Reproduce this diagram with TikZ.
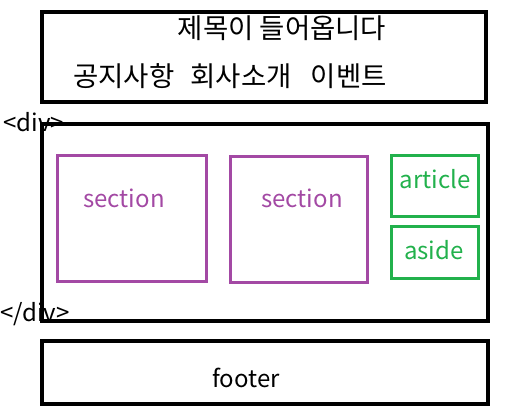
\documentclass[tikz,border=0pt]{standalone}
\usepackage{fontspec}
\setmainfont{Noto Sans CJK KR}
\usepackage{tikz}
\usetikzlibrary{positioning}
\definecolor{secpurple}{HTML}{A349A4}
\definecolor{artgreen}{HTML}{22B14C}
\tikzset{every picture/.style={line width=0.75pt}}
\tikzset{
  blackbox/.style={draw=black, line width=3.6pt, inner sep=0pt},
  secbox/.style={draw=secpurple, line width=3pt, inner sep=0pt},
  artbox/.style={draw=artgreen, line width=3pt, inner sep=0pt},
  txt/.style={font=\fontsize{24}{26}\selectfont, inner sep=0pt},
  kortxt/.style={font=\fontsize{27.5}{30}\selectfont, inner sep=0pt}
}

\begin{document}
\begin{tikzpicture}[x=1pt, y=-1pt]
\useasboundingbox (0,0) rectangle (510,415);
% header
\node[blackbox, minimum width=444pt, minimum height=90pt] (head) at (264,57) {};
\node[kortxt] (title) at (282,28) {제목이 들어옵니다};
\node[kortxt, anchor=west] (nav) at (73,76) {공지사항\hspace{16pt}회사소개\hspace{19pt}이벤트};
%
% div
\node[blackbox, minimum width=446pt, minimum height=197pt] (div) at (265,222.5) {};
\node[txt, anchor=west] (divopen) at (3,122) {<div>};
\node[txt, anchor=west] (divclose) at (0,314) {</div>};
%
\node[secbox, minimum width=149pt, minimum height=126pt] (sec1) at (131.5,218) {};
\node[txt, text=secpurple] (sec1t) at (124,198) {section};
\node[secbox, minimum width=137pt, minimum height=126pt] (sec2) at (298.5,219) {};
\node[txt, text=secpurple] (sec2t) at (302,198) {section};
%
\node[artbox, minimum width=87pt, minimum height=61pt] (art) at (434.5,185.5) {};
\node[txt, text=artgreen] (artt) at (435,179) {article};
\node[artbox, minimum width=87pt, minimum height=52pt] (aside) at (434.5,252) {};
\node[txt, text=artgreen] (asidet) at (434,250) {aside};
%
% footer
\node[blackbox, minimum width=446pt, minimum height=63pt] (foot) at (265,372.5) {};
\node[txt] (foott) at (246,378) {footer};
\end{tikzpicture}
\end{document}
